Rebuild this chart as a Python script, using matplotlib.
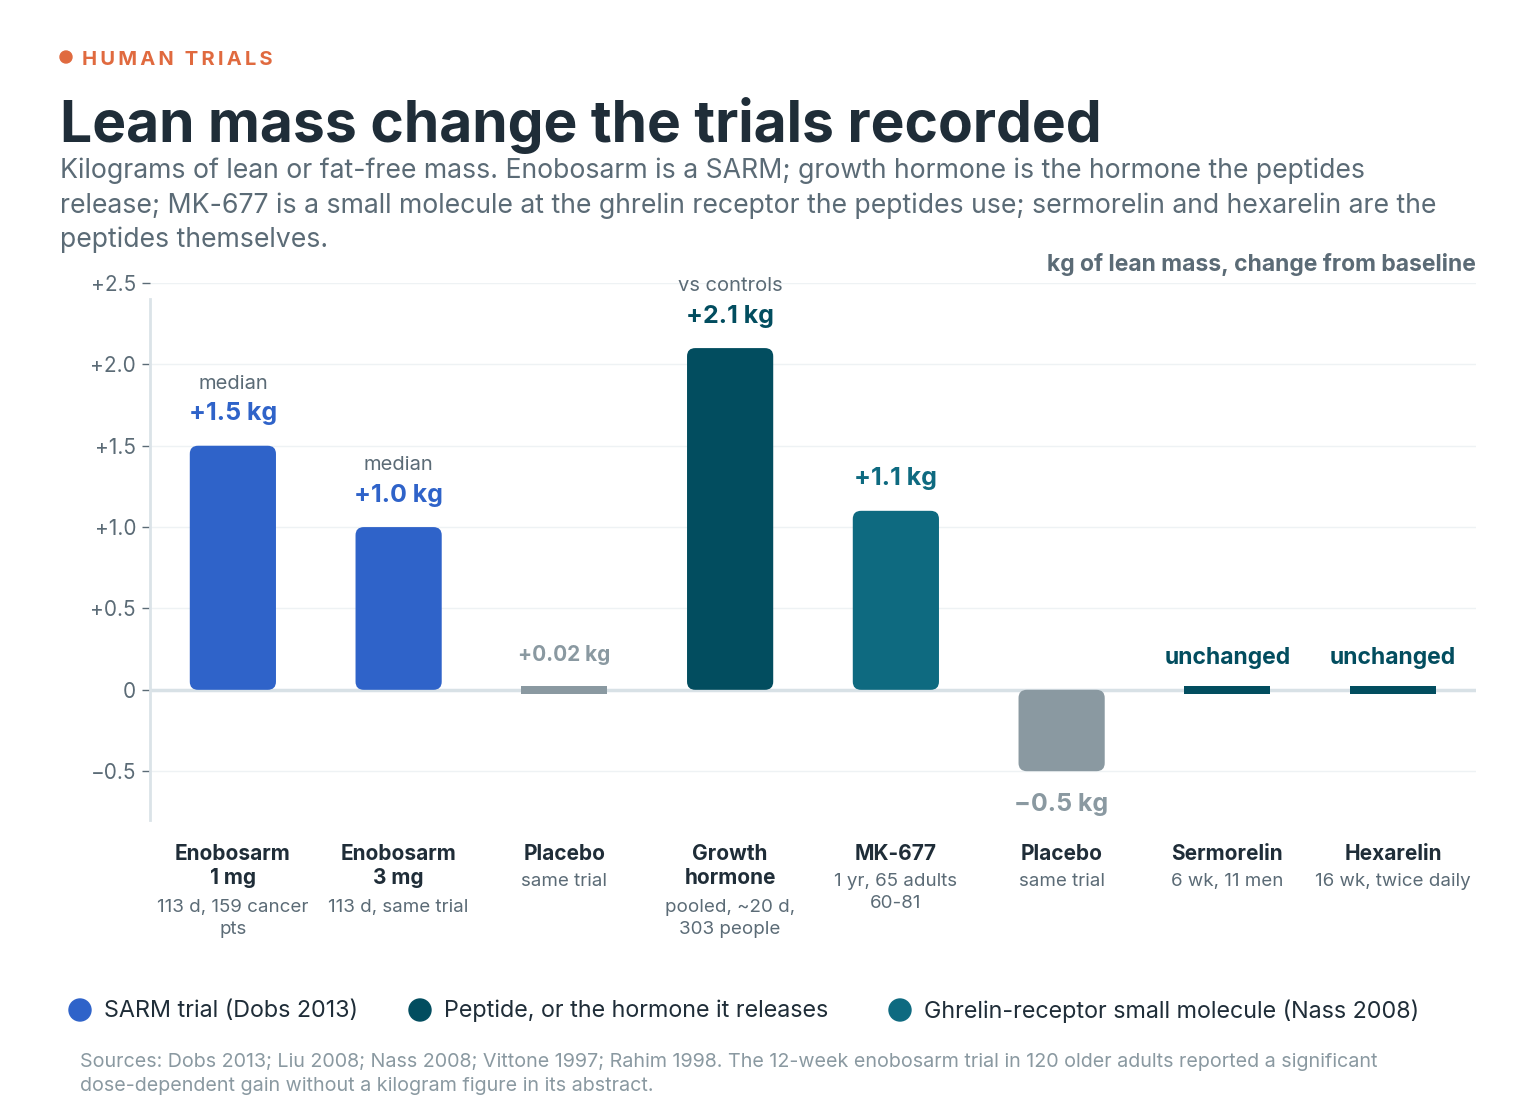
import matplotlib
matplotlib.use("Agg")
import matplotlib.pyplot as plt
from matplotlib.patches import FancyBboxPatch, Rectangle, Ellipse

plt.rcParams["font.family"] = ["Inter", "DejaVu Sans"]

# ---- data ----
categories = ["Enobosarm\n1 mg", "Enobosarm\n3 mg", "Placebo", "Growth\nhormone",
              "MK-677", "Placebo", "Sermorelin", "Hexarelin"]
details = ["113 d, 159 cancer\npts", "113 d, same trial", "same trial",
           "pooled, ~20 d,\n303 people", "1 yr, 65 adults\n60-81", "same trial",
           "6 wk, 11 men", "16 wk, twice daily"]
values = [1.5, 1.0, 0.02, 2.1, 1.1, -0.5, 0.0, 0.0]
value_labels = ["+1.5 kg", "+1.0 kg", "+0.02 kg", "+2.1 kg", "+1.1 kg",
                "\u22120.5 kg", "unchanged", "unchanged"]
notes = ["median", "median", "", "vs controls", "", "", "", ""]
groups = ["sarm", "sarm", "placebo", "peptide", "ghrelin", "placebo", "peptide", "peptide"]

yticks = [-0.5, 0, 0.5, 1.0, 1.5, 2.0, 2.5]
ytick_labels = ["\u22120.5", "0", "+0.5", "+1.0", "+1.5", "+2.0", "+2.5"]

legend_keys = ["sarm", "peptide", "ghrelin"]
legend_labels = ["SARM trial (Dobs 2013)", "Peptide, or the hormone it releases",
                 "Ghrelin-receptor small molecule (Nass 2008)"]

colors = {"sarm": "#2f63c9", "peptide": "#024d5f", "ghrelin": "#0e6a80",
          "placebo": "#8a99a1"}
DARK = "#1f2d38"
GRAY = "#5b6b76"
W, H = 1536, 1120


def dot(x, y, d, color):
    # round dot in pixel units
    fig.patches.append(Ellipse((x / W, 1 - y / H), d / W, d / H,
                               transform=fig.transFigure, color=color, figure=fig))


fig = plt.figure(figsize=(15.36, 11.2), dpi=100)
ax = fig.add_axes([150 / W, 1 - 820 / H, (1476 - 150) / W, (820 - 283) / H])
ax.set_xlim(-0.5, 7.5)
ax.set_ylim(-0.8, 2.5)

# grid + zero line
for t in yticks:
    if t != 0:
        ax.axhline(t, color="#eef2f4", lw=1, zorder=0)
ax.axhline(0, color="#d8e1e6", lw=2.5, zorder=1)

w = 0.52
for i, (v, g) in enumerate(zip(values, groups)):
    c = colors[g]
    if abs(v) < 0.05:
        ax.add_patch(Rectangle((i - w / 2, -0.025), w, 0.05, color=c, zorder=3, lw=0))
    else:
        ax.add_patch(FancyBboxPatch((i - w / 2, min(0, v)), w, abs(v),
                                    boxstyle="round,pad=0,rounding_size=0.05",
                                    color=c, zorder=3, lw=0))
    top = max(v, 0)
    if v < 0:
        size = 18
        off = -24
    elif abs(v) >= 0.05:
        size = 18
        off = 23
    else:
        size = 16.5 if value_labels[i] == "unchanged" else 15
        off = 23
    ax.annotate(value_labels[i], (i, v if v < 0 else top), xytext=(0, off),
                textcoords="offset points", ha="center", va="center",
                fontsize=size, weight="bold", color=c)
    if notes[i]:
        ax.annotate(notes[i], (i, top), xytext=(0, 44.5), textcoords="offset points",
                    ha="center", va="center", fontsize=14.5, color=GRAY)

# category labels
for i, (name, det) in enumerate(zip(categories, details)):
    n = name.count("\n") + 1
    ax.annotate(name, (i, 0), xycoords=("data", "axes fraction"), xytext=(0, -17),
                textcoords="offset points", ha="center", va="top", fontsize=15,
                weight="bold", color=DARK, linespacing=1.3)
    ax.annotate(det, (i, 0), xycoords=("data", "axes fraction"),
                xytext=(0, -17 - 18.5 * n - 3), textcoords="offset points",
                ha="center", va="top", fontsize=13.5, color=GRAY, linespacing=1.35)

# axes styling
for s in ["top", "right", "bottom"]:
    ax.spines[s].set_visible(False)
ax.spines["left"].set_color("#dbe3e8")
ax.spines["left"].set_linewidth(2)
ax.spines["left"].set_bounds(-0.8, 2.4)
ax.set_xticks([])
ax.set_yticks(yticks)
ax.set_yticklabels(ytick_labels)
ax.tick_params(axis="y", length=6, width=1, color=GRAY, labelsize=15, labelcolor=GRAY, pad=4)

# header
dot(66, 57, 12, "#e06a3f")
fig.text(82 / W, 1 - 60 / H, "\u2009".join("HUMAN TRIALS"),
         fontsize=14.5, weight="bold", color="#e06a3f", va="center", ha="left")
fig.text(60 / W, 1 - 126 / H, "Lean mass change the trials recorded",
         fontsize=41, weight="bold", color="#1f2d38", va="center", ha="left")
fig.text(60 / W, 1 - 158 / H,
         "Kilograms of lean or fat-free mass. Enobosarm is a SARM; growth hormone is the hormone the peptides\n"
         "release; MK-677 is a small molecule at the ghrelin receptor the peptides use; sermorelin and hexarelin are the\n"
         "peptides themselves.",
         fontsize=19.2, color=GRAY, va="top", ha="left", linespacing=1.37)
fig.text(1476 / W, 1 - 265 / H, "kg of lean mass, change from baseline",
         fontsize=16.5, weight="bold", color=GRAY, va="center", ha="right")

# legend
lx = [80, 420, 900]
for x, k, lab in zip(lx, legend_keys, legend_labels):
    dot(x, 1010, 22, colors[k])
    fig.text((x + 24) / W, 1 - 1011 / H, lab, fontsize=16.8, color=DARK,
             va="center", ha="left")

fig.text(80 / W, 1 - 1053 / H,
         "Sources: Dobs 2013; Liu 2008; Nass 2008; Vittone 1997; Rahim 1998. The 12-week enobosarm trial in 120 older adults reported a significant\n"
         "dose-dependent gain without a kilogram figure in its abstract.",
         fontsize=14.2, color="#8a99a1", va="top", ha="left", linespacing=1.4)

fig.savefig("out.png", dpi=100)
